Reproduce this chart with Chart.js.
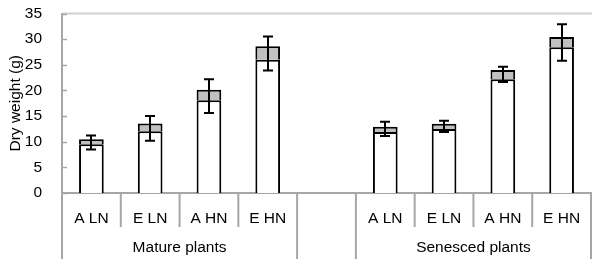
<!DOCTYPE html>
<html>
<head>
<meta charset="utf-8">
<script src="https://cdn.jsdelivr.net/npm/chart.js@4"></script>
<style>
  html, body { margin: 0; padding: 0; background: #fff; }
  #wrap { width: 592px; height: 259px; }
</style>
</head>
<body>
<div id="wrap"><canvas id="myChart"></canvas></div>
<script>
// categories (empty slot keeps the gap between the two groups)
const categories = ['A LN', 'E LN', 'A HN', 'E HN', '', 'A LN', 'E LN', 'A HN', 'E HN'];
const groups = ['Mature plants', 'Senesced plants'];
const groupStart = [0, 5];
const groupEnd = [3, 8];

// white (lower) part and grey (upper) part of each bar, g
const lowerPart = [9.5, 12.05, 18.1, 26.0, null, 11.9, 12.5, 22.2, 28.4];
const upperPart = [1.0, 1.5, 2.05, 2.6, null, 1.0, 1.0, 1.8, 2.0];
// error bars: above the bar total and below the white part
const errAbove = [0.7, 1.45, 2.05, 1.9, null, 1.0, 0.6, 0.6, 2.5];
const errBelow = [1.0, 1.85, 2.5, 2.1, null, 0.8, 0.6, 0.55, 2.6];

const yTicks = [0, 5, 10, 15, 20, 25, 30, 35];

const axisGrey = '#a6a6a6';
const fontFam = '"Liberation Sans", Arial, sans-serif';

Chart.defaults.font.family = fontFam;
Chart.defaults.font.size = 15.5;
Chart.defaults.color = '#000';

const extras = {
  id: 'extras',
  afterDatasetsDraw(chart) {
    const ctx = chart.ctx;
    const x = chart.scales.x;
    const y = chart.scales.y;
    const area = chart.chartArea;
    const half = (x.getPixelForValue(1) - x.getPixelForValue(0)) / 2;

    ctx.save();
    // error bars
    ctx.strokeStyle = '#000';
    ctx.lineWidth = 2;
    for (let i = 0; i < categories.length; i++) {
      if (lowerPart[i] == null) continue;
      const cx = Math.round(x.getPixelForValue(i));
      const total = lowerPart[i] + upperPart[i];
      const top = y.getPixelForValue(total + errAbove[i]);
      const bot = y.getPixelForValue(lowerPart[i] - errBelow[i]);
      ctx.beginPath();
      ctx.moveTo(cx, top); ctx.lineTo(cx, bot);
      ctx.moveTo(cx - 5, top); ctx.lineTo(cx + 5, top);
      ctx.moveTo(cx - 5, bot); ctx.lineTo(cx + 5, bot);
      ctx.stroke();
    }

    // top line of plot area
    ctx.strokeStyle = '#cfcfcf';
    ctx.lineWidth = 2;
    ctx.beginPath();
    ctx.moveTo(area.left, area.top);
    ctx.lineTo(chart.width, area.top);
    ctx.stroke();

    // inward tick marks on the y axis
    ctx.strokeStyle = axisGrey;
    ctx.lineWidth = 1.5;
    ctx.beginPath();
    yTicks.forEach(v => {
      const py = Math.round(y.getPixelForValue(v)) + 0.5;
      ctx.moveTo(area.left - 1, py);
      ctx.lineTo(area.left + 5, py);
    });
    ctx.stroke();

    // category dividers below the axis
    ctx.lineWidth = 2;
    ctx.beginPath();
    for (let i = 0; i <= categories.length; i++) {
      const px = x.getPixelForValue(i) - half;
      const isGroupEdge = i === 0 || i === categories.length || i === 4 || i === 5;
      ctx.moveTo(px, area.bottom);
      ctx.lineTo(px, isGroupEdge ? chart.height : area.bottom + 34);
    }
    ctx.stroke();

    // group labels
    ctx.fillStyle = '#000';
    ctx.font = '15.5px ' + fontFam;
    ctx.textAlign = 'center';
    ctx.textBaseline = 'middle';
    groups.forEach((g, k) => {
      const left = x.getPixelForValue(groupStart[k]) - half;
      const right = x.getPixelForValue(groupEnd[k]) + half;
      ctx.fillText(g, (left + right) / 2, 248);
    });
    ctx.restore();
  }
};

new Chart(document.getElementById('myChart'), {
  type: 'bar',
  data: {
    labels: categories,
    datasets: [
      {
        label: 'lower',
        data: lowerPart,
        backgroundColor: '#ffffff',
        borderColor: '#000',
        borderWidth: 2,
        categoryPercentage: 1,
        barPercentage: 0.42
      },
      {
        label: 'upper',
        data: upperPart,
        backgroundColor: '#c0c0c0',
        borderColor: '#000',
        borderWidth: 2,
        categoryPercentage: 1,
        barPercentage: 0.42
      }
    ]
  },
  options: {
    responsive: true,
    maintainAspectRatio: false,
    animation: false,
    layout: { padding: { top: 13.5, right: 1, left: 0, bottom: 0 } },
    plugins: { legend: { display: false }, tooltip: { enabled: false } },
    scales: {
      x: {
        stacked: true,
        afterFit(scale) { scale.height = 66; },
        grid: { display: false },
        border: { color: axisGrey, width: 2 },
        ticks: { padding: 8, maxRotation: 0, autoSkip: false }
      },
      y: {
        stacked: true,
        min: 0,
        max: 35,
        afterFit(scale) {
          scale.width = 62;
          scale.paddingTop = 0;
          scale.paddingBottom = 0;
        },
        afterBuildTicks(scale) { scale.ticks = yTicks.map(v => ({ value: v })); },
        grid: { display: false },
        border: { color: axisGrey, width: 2 },
        ticks: { padding: 12 },
        title: {
          display: true,
          text: 'Dry weight (g)',
          padding: { top: 6, bottom: 0 }
        }
      }
    }
  },
  plugins: [extras]
});
</script>
</body>
</html>
